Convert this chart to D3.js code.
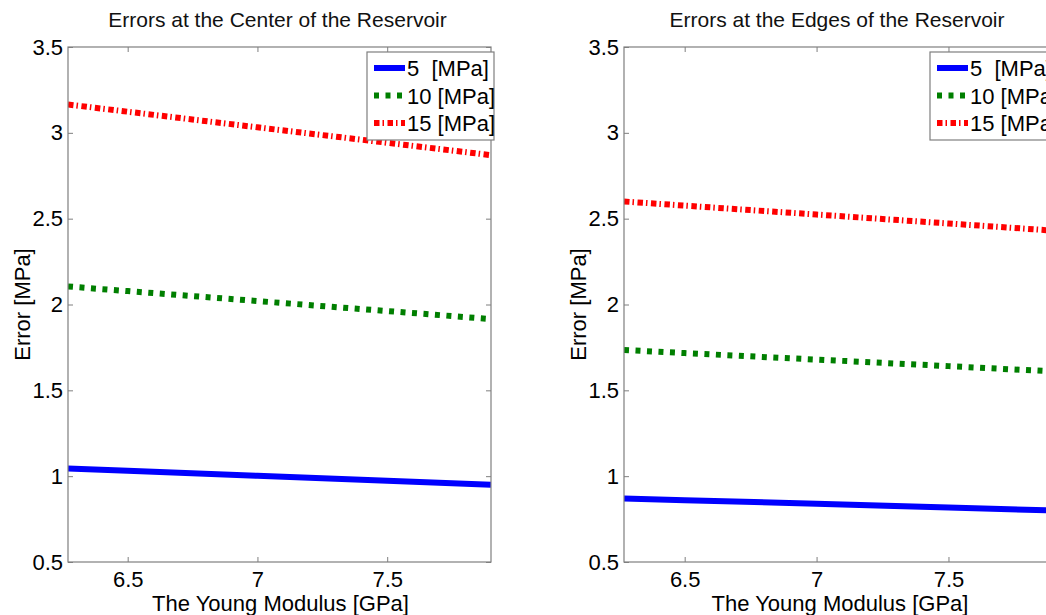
<!DOCTYPE html>
<html>
<head>
<meta charset="utf-8">
<script src="https://cdn.jsdelivr.net/npm/d3@7"></script>
<style>
  body { margin: 0; background: #fff; }
  svg { display: block; font-family: "Liberation Sans", Arial, sans-serif; }
</style>
</head>
<body>
<script>
// Young modulus samples [GPa]
var youngModulus = [6.27, 6.5, 7, 7.5, 7.9];

// errors at the center of the reservoir [MPa]
var center5 = [1.045, 1.032, 1.002, 0.973, 0.950];
var center10 = [2.105, 2.078, 2.020, 1.962, 1.915];
var center15 = [3.165, 3.123, 3.032, 2.942, 2.870];

// errors at the edges of the reservoir [MPa]
var edge5 = [0.870, 0.860, 0.839, 0.817, 0.800];
var edge10 = [1.735, 1.717, 1.679, 1.641, 1.610];
var edge15 = [2.600, 2.576, 2.524, 2.472, 2.430];

var seriesNames = ["5  [MPa]", "10 [MPa]", "15 [MPa]"];
var xTicks = [6.5, 7, 7.5];
var yTicks = [0.5, 1, 1.5, 2, 2.5, 3, 3.5];

var styles = [
    { color: "#0000ff", dash: null },
    { color: "#007f00", dash: "5,6.5" },
    { color: "#ff0000", dash: "5.5,3,1.5,3.5" }
];

var svg = d3.select("body").append("svg")
    .attr("width", 1046)
    .attr("height", 615);

var panels = [
    { title: "Errors at the Center of the Reservoir", left: 68, right: 491, data: [center5, center10, center15] },
    { title: "Errors at the Edges of the Reservoir", left: 624, right: 1054, data: [edge5, edge10, edge15] }
];

var plotTop = 47, plotBottom = 562;
var axisGray = "#7f7f7f";
var fontSize = "22px";

panels.forEach(function (p) {
    var xScale = d3.scaleLinear().domain([6.27, 7.9]).range([p.left, p.right]);
    var yScale = d3.scaleLinear().domain([0.5, 3.5]).range([plotBottom, plotTop]);
    var g = svg.append("g");

    // bottom and left axes with labels, ticks drawn inward
    g.append("g")
        .attr("transform", "translate(0," + plotBottom + ")")
        .call(d3.axisBottom(xScale).tickValues(xTicks).tickSize(-5).tickPadding(9).tickFormat(d3.format("")))
        .call(a => a.select(".domain").remove())
        .call(a => a.selectAll("line").attr("stroke", axisGray))
        .call(a => a.selectAll("text").attr("font-size", fontSize).attr("fill", "#000")
            .attr("font-family", "Liberation Sans, Arial, sans-serif"));

    g.append("g")
        .attr("transform", "translate(0," + plotTop + ")")
        .call(d3.axisTop(xScale).tickValues(xTicks).tickSize(-5).tickFormat(""))
        .call(a => a.select(".domain").remove())
        .call(a => a.selectAll("line").attr("stroke", axisGray));

    g.append("g")
        .attr("transform", "translate(" + p.left + ",0)")
        .call(d3.axisLeft(yScale).tickValues(yTicks).tickSize(-5).tickPadding(5).tickFormat(d3.format("")))
        .call(a => a.select(".domain").remove())
        .call(a => a.selectAll("line").attr("stroke", axisGray))
        .call(a => a.selectAll("text").attr("font-size", fontSize).attr("fill", "#000")
            .attr("font-family", "Liberation Sans, Arial, sans-serif"));

    g.append("g")
        .attr("transform", "translate(" + p.right + ",0)")
        .call(d3.axisRight(yScale).tickValues(yTicks).tickSize(-5).tickFormat(""))
        .call(a => a.select(".domain").remove())
        .call(a => a.selectAll("line").attr("stroke", axisGray));

    // clip the lines to the axes box
    var clipId = "clip" + p.left;
    svg.append("clipPath").attr("id", clipId)
        .append("rect")
        .attr("x", p.left).attr("y", plotTop)
        .attr("width", p.right - p.left).attr("height", plotBottom - plotTop);

    var line = d3.line()
        .x((d, i) => xScale(youngModulus[i]))
        .y(d => yScale(d));

    p.data.forEach(function (vals, k) {
        g.append("path")
            .datum(vals)
            .attr("clip-path", "url(#" + clipId + ")")
            .attr("d", line)
            .attr("fill", "none")
            .attr("stroke", styles[k].color)
            .attr("stroke-width", 6)
            .attr("stroke-dasharray", styles[k].dash);
    });

    // axes box
    g.append("rect")
        .attr("x", p.left).attr("y", plotTop)
        .attr("width", p.right - p.left).attr("height", plotBottom - plotTop)
        .attr("fill", "none")
        .attr("stroke", axisGray)
        .attr("stroke-width", 1.2);

    // title
    g.append("text")
        .attr("x", (p.left + p.right) / 2 - 2)
        .attr("y", 27)
        .attr("text-anchor", "middle")
        .attr("font-size", "21px")
        .attr("fill", "#111")
        .text(p.title);

    // x label, centred under the axes box
    g.append("text")
        .attr("x", (p.left + p.right) / 2 + 1)
        .attr("y", 611)
        .attr("text-anchor", "middle")
        .attr("font-size", fontSize)
        .text("The Young Modulus [GPa]");

    // y label
    g.append("text")
        .attr("transform", "translate(" + (p.left - 38) + "," + ((plotTop + plotBottom) / 2) + ") rotate(-90)")
        .attr("text-anchor", "middle")
        .attr("font-size", fontSize)
        .text("Error [MPa]");

    // legend
    var lx = p.right - 124, ly = 52;
    var leg = g.append("g").attr("transform", "translate(" + lx + "," + ly + ")");
    leg.append("rect")
        .attr("width", 127).attr("height", 88)
        .attr("fill", "#fff")
        .attr("stroke", axisGray)
        .attr("stroke-width", 1.2);
    seriesNames.forEach(function (name, k) {
        var yy = 16 + k * 27.5;
        leg.append("line")
            .attr("x1", 7).attr("x2", 38)
            .attr("y1", yy).attr("y2", yy)
            .attr("stroke", styles[k].color)
            .attr("stroke-width", 6)
            .attr("stroke-dasharray", styles[k].dash);
        leg.append("text")
            .attr("x", 40)
            .attr("y", yy + 8)
            .attr("font-size", fontSize)
            .attr("xml:space", "preserve")
            .style("white-space", "pre")
            .text(name);
    });
});
</script>
</body>
</html>
